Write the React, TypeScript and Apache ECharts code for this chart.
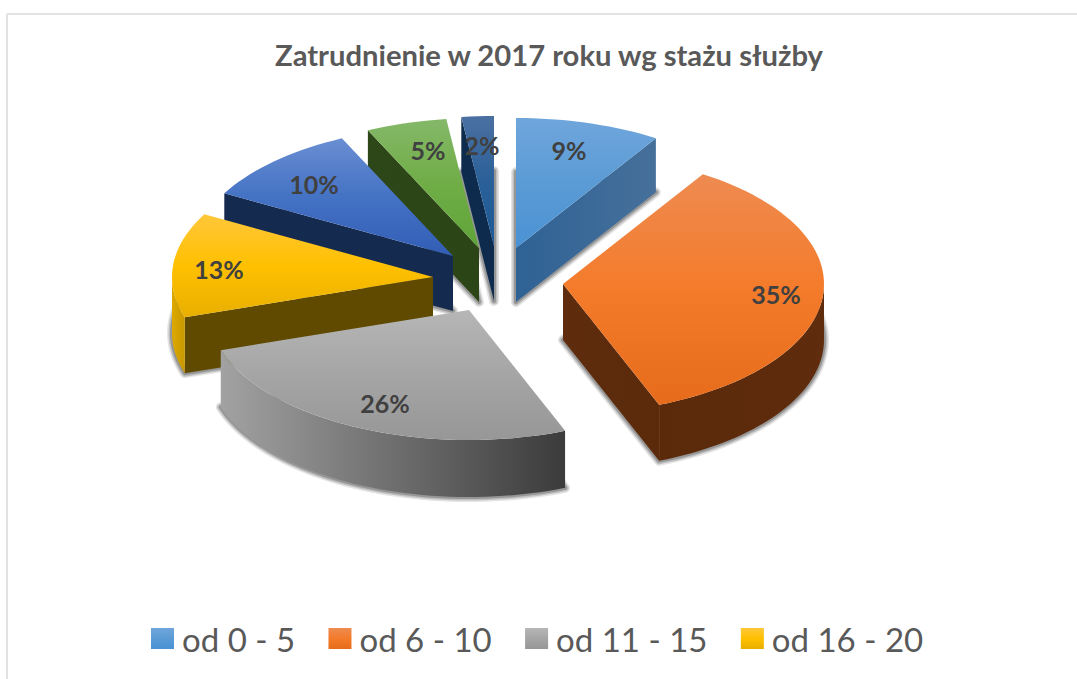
import React, { useEffect, useRef } from "react";
import * as echarts from "echarts";

const titleText = "Zatrudnienie w 2017 roku wg stażu służby";
const categories = ["od 0 - 5", "od 6 - 10", "od 11 - 15", "od 16 - 20", "od 21 - 25", "od 26 - 30", "pow. 30"];
const shares = [9, 35, 26, 13, 10, 5, 2];
const legendNames = ["od 0 - 5", "od 6 - 10", "od 11 - 15", "od 16 - 20"];

// layout, per slice
const apexes = [[516, 248], [563, 284], [469, 310], [433, 277], [453, 256], [479, 248], [494, 246]];
const depths = [54, 56, 57, 56, 55, 54, 55];
const labelPositions = [[569, 150], [776, 294], [385, 403], [219, 269], [314, 184], [428, 150], [482, 145]];
const drawOrder = [6, 5, 4, 3, 2, 0, 1];
const RX = 261;
const RY = 130;

// styles, per slice
const topStops = [
  ["#6FA6DC", "#5B9BD5", "#4A92D4"],
  ["#EE8B51", "#F47B2A", "#E66C1B"],
  ["#B6B6B6", "#A5A5A5", "#979797"],
  ["#FFC73A", "#FFC000", "#E8AF00"],
  ["#6A8ED2", "#4472C4", "#325DB6"],
  ["#84B868", "#70AD47", "#5FA438"],
  ["#4B70A2", "#2A6098", "#1D5A96"],
];
const radialWalls = [
  ["#2F6295", "#46709A"],
  ["#5F2D0D", "#5A2A0B"],
  ["#444444", "#3B3B3B"],
  ["#5F4A00", "#5F4A00"],
  ["#152A4F", "#152A4F"],
  ["#2E4718", "#2C4516"],
  ["#0E2A4C", "#0E2A4C"],
];
const outerWalls = [
  ["#3F6D9A", "#3F6D9A"],
  ["#5A2A0B", "#5F2C0D"],
  ["#A2A2A2", "#3B3B3B"],
  ["#DDA900", "#C79800"],
  ["#152A4F", "#152A4F"],
  ["#2E4718", "#2E4718"],
  ["#0E2A4C", "#0E2A4C"],
];
const shadowPasses = [
  [10, 0.1],
  [7, 0.16],
  [4, 0.22],
];

const vGrad = (s: string[]) =>
  new echarts.graphic.LinearGradient(0, 0, 0, 1, [
    { offset: 0, color: s[0] },
    { offset: 0.5, color: s[1] },
    { offset: 1, color: s[2] },
  ]);
const hGrad = (s: string[]) =>
  new echarts.graphic.LinearGradient(0, 0, 1, 0, [
    { offset: 0, color: s[0] },
    { offset: 1, color: s[1] },
  ]);

const total = shares.reduce((a, b) => a + b, 0);
const startAngles = shares.map((_, i) => (shares.slice(0, i).reduce((a, b) => a + b, 0) / total) * 360);

function pointAt(apex: number[], deg: number) {
  const t = (deg * Math.PI) / 180;
  return [apex[0] + RX * Math.sin(t), apex[1] - RY * Math.cos(t)];
}
function arcPoints(apex: number[], from: number, to: number) {
  const pts: number[][] = [];
  const n = Math.max(2, Math.ceil((to - from) / 2));
  for (let i = 0; i <= n; i++) pts.push(pointAt(apex, from + ((to - from) * i) / n));
  return pts;
}

function makeSeries(idx: number) {
  const depth = depths[idx];
  const down = (pts: number[][]) => pts.map((p) => [p[0], p[1] + depth]);
  return {
    type: "custom",
    name: categories[idx],
    coordinateSystem: "none",
    silent: true,
    data: [[shares[idx], startAngles[idx]]],
    itemStyle: { color: topStops[idx][1] },
    renderItem: (_: unknown, api: any) => {
      const value = api.value(0) as number;
      const start = api.value(1) as number;
      const end = start + (value / total) * 360;
      const apex = apexes[idx];
      const arc = arcPoints(apex, start, end);
      const outline = [apex, ...arc];
      const children: any[] = [];

      shadowPasses.forEach(([w, a]) => {
        children.push({
          type: "polygon",
          shape: { points: down(outline) },
          style: { fill: "none", stroke: `rgba(0,0,0,${a})`, lineWidth: w, lineJoin: "round" },
        });
      });

      const wall = (a: number[], b: number[]) => {
        children.push({
          type: "polygon",
          shape: { points: [a, b, [b[0], b[1] + depth], [a[0], a[1] + depth]] },
          style: { fill: hGrad(radialWalls[idx]) },
        });
      };
      const first = arc[0];
      const last = arc[arc.length - 1];
      if (first[0] < apex[0]) wall(apex, first);
      if (apex[0] < last[0]) wall(last, apex);

      const frontFrom = Math.max(start, 90);
      const frontTo = Math.min(end, 270);
      if (frontTo > frontFrom) {
        const front = arcPoints(apex, frontFrom, frontTo);
        children.push({
          type: "polygon",
          shape: { points: [...front, ...down(front).reverse()] },
          style: { fill: hGrad(outerWalls[idx]) },
        });
      }

      children.push({
        type: "polygon",
        shape: { points: outline },
        style: { fill: vGrad(topStops[idx]) },
      });

      children.push({
        type: "text",
        x: labelPositions[idx][0],
        y: labelPositions[idx][1],
        style: {
          text: `${value}%`,
          fill: "#404040",
          font: "bold 25px Lato",
          align: "center",
          verticalAlign: "middle",
        },
      });
      return { type: "group", children };
    },
  };
}

export default function App() {
  const ref = useRef<HTMLDivElement>(null);
  useEffect(() => {
    document.body.style.margin = "0";
    const chart = echarts.init(ref.current!, undefined, { renderer: "svg" });
    chart.setOption({
      animation: false,
      backgroundColor: "#ffffff",
      title: {
        text: titleText,
        left: 544,
        top: 35,
        textAlign: "center",
        textStyle: { fontFamily: "Lato", fontWeight: "bold", fontSize: 29.2, color: "#595959" },
      },
      legend: {
        left: 146,
        top: 617,
        itemWidth: 23,
        itemHeight: 21,
        itemGap: 33.4,
        icon: "rect",
        textStyle: { fontFamily: "Lato", fontSize: 33, color: "#595959", padding: [0, 0, 0, 3] },
        data: legendNames.map((name) => ({
          name,
          itemStyle: { color: vGrad(topStops[categories.indexOf(name)]) },
        })),
      },
      graphic: [
        { type: "line", shape: { x1: 7, y1: 14, x2: 1077, y2: 14 }, style: { stroke: "#E2E2E2", lineWidth: 2 }, silent: true },
        { type: "line", shape: { x1: 7, y1: 14, x2: 7, y2: 679 }, style: { stroke: "#E2E2E2", lineWidth: 2 }, silent: true },
      ],
      series: drawOrder.map(makeSeries),
    });
    return () => chart.dispose();
  }, []);
  return <div ref={ref} style={{ width: 1077, height: 679 }} />;
}
